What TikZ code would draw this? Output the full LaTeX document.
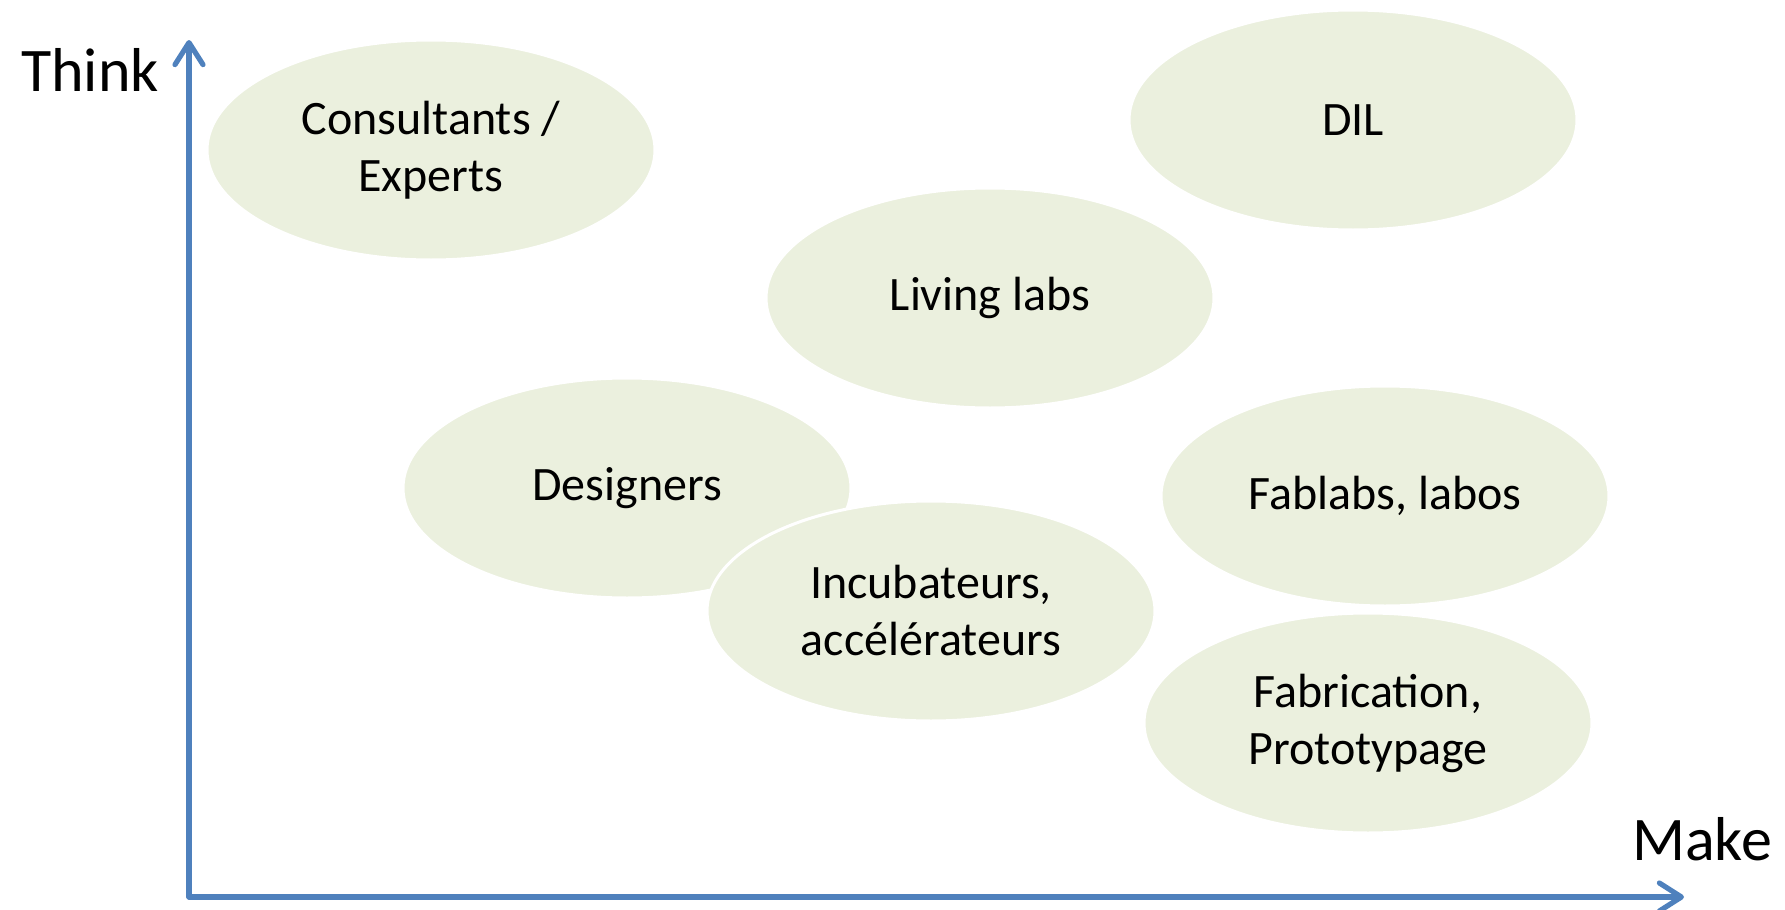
\documentclass[tikz,border=0pt]{standalone}
\usepackage{fontspec}
\setmainfont{Carlito}
\usetikzlibrary{shapes.geometric,arrows.meta}
\definecolor{bubble}{HTML}{EBF0DE}
\definecolor{axisblue}{HTML}{4F81BD}
\tikzset{
  bubble/.style={ellipse, fill=bubble, draw=white, line width=1.5pt,
    minimum width=224pt, minimum height=110pt, inner sep=0pt,
    align=center, font=\fontsize{24pt}{28.5pt}\selectfont},
  axislabel/.style={font=\fontsize{31pt}{36pt}\selectfont, anchor=base},
  axis/.style={draw=axisblue, line width=2.6pt,
    -{Straight Barb[length=11pt,width=14pt,line cap=round,line join=round]}}
}
\begin{document}
\begin{tikzpicture}[x=0.5pt,y=-0.5pt]
\useasboundingbox (0,0) rectangle (1785,910);
\node[bubble] (consult) at (431,150) {Consultants /\\Experts};
\node[bubble] (dil) at (1353,120) {DIL};
\node[bubble] (living) at (990,298) {Living labs};
\node[bubble] (designers) at (627,488) {Designers};
\node[bubble] (incub) at (931,611) {Incubateurs,\\accélérateurs};
\node[bubble] (fablabs) at (1385,496) {Fablabs, labos};
\node[bubble] (fabric) at (1368,723) {Fabrication,\\Prototypage};
\coordinate (O) at (189,897);
\coordinate (ytop) at (189,40);
\coordinate (xend) at (1684,897);
\draw[axis, line cap=round] (O) -- (ytop);
\draw[axis, line cap=round] (O) -- (xend);
\node[axislabel] (think) at (90,91) {Think};
\node[axislabel] (make) at (1702,860) {Make};
\end{tikzpicture}
\end{document}
